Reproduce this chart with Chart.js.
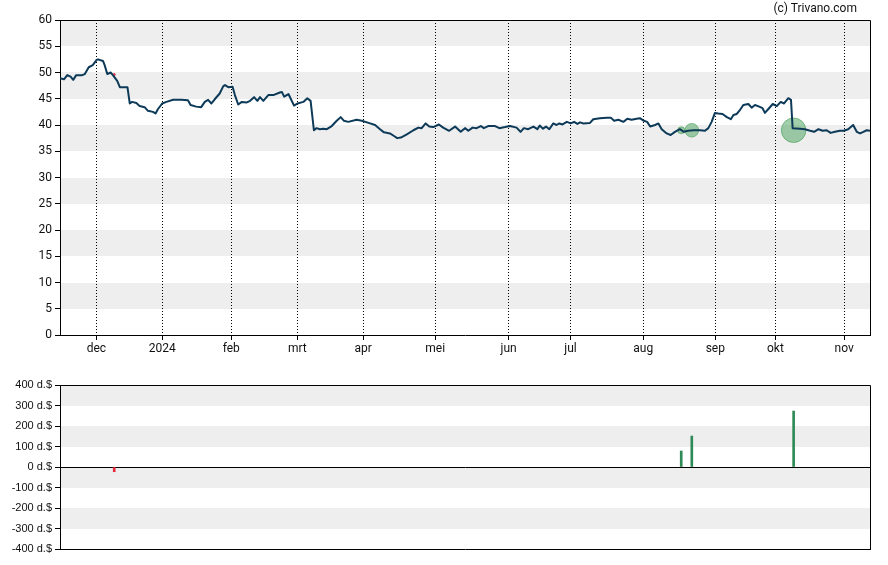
<!DOCTYPE html>
<html><head><meta charset="utf-8">
<script src="https://cdn.jsdelivr.net/npm/chart.js@4.4.0/dist/chart.umd.min.js"></script>
<style>
html,body{margin:0;padding:0;background:#fff;}
#wrap{position:relative;width:888px;height:565px;overflow:hidden;}
#c1{position:absolute;left:0;top:0;}
#c2{position:absolute;left:0;top:365px;}
#credit{position:absolute;right:31px;top:1px;font:12px Roboto,sans-serif;line-height:14px;color:#111;}
</style></head><body>
<div id="wrap">
<canvas id="c1" width="888" height="365"></canvas>
<canvas id="c2" width="888" height="200"></canvas>
<div id="credit">(c) Trivano.com</div>
</div>
<script>
// Trading-day index (0 = first day shown) and closing price
const priceDay = [0,1.2,2.2,3.2,4.0,4.9,6.7,7.5,8.7,9.9,11.1,11.5,13.0,13.5,14.3,15.3,16.0,17.3,18.1,20.4,21.1,21.8,23.1,24.1,25.6,26.6,28.1,28.9,29.6,30.9,32.2,34.2,36.7,38.7,39.5,41.2,42.7,43.8,44.8,45.8,46.8,48.3,49.4,49.9,50.9,52.2,52.9,53.9,55.0,56.5,57.5,58.7,59.7,60.5,61.5,63.0,64.5,66.5,67.1,67.8,69.1,70.8,71.8,73.6,74.8,75.8,76.8,77.6,78.6,79.6,80.7,82.2,83.7,84.9,85.9,87.2,89.7,91.3,93.3,95.3,96.8,98.0,99.8,100.8,102.0,103.1,104.9,106.9,108.4,109.4,110.6,111.7,112.9,114.6,115.9,117.7,119.5,121.2,122.5,123.5,124.8,126.0,127.3,128.2,129.5,131.6,132.9,134.6,136.1,138.1,139.3,140.3,141.6,143.2,144.4,145.1,146.1,147.0,148.0,149.2,150.2,151.0,152.0,153.3,154.5,155.5,156.5,157.3,158.3,160.3,161.3,163.3,165.4,166.6,167.6,168.9,170.4,171.6,172.9,174.4,175.4,176.6,177.6,178.5,180.0,181.0,182.0,183.5,184.7,186.0,187.5,188.7,190.0,191.6,193.6,195.1,196.1,197.1,198.1,199.1,200.4,201.7,202.9,203.7,204.7,205.7,206.7,208.2,209.2,210.2,211.5,212.5,213.2,214.2,215.6,216.8,218.0,219.0,220.3,221.1,221.6,223.8,225.3,226.9,228.1,229.4,230.7,231.9,233.1,234.4,235.9,237.1,238.4,239.9,241.0,242.0,243.0,244.0,245.0];
const priceValue = [48.9,48.7,49.5,49.2,48.6,49.5,49.5,49.7,51.0,51.4,52.4,52.5,52.2,51.4,49.7,50.0,49.5,48.4,47.2,47.2,44.1,44.4,44.2,43.6,43.4,42.7,42.5,42.2,43.0,44.1,44.4,44.8,44.8,44.7,43.8,43.5,43.4,44.4,44.8,44.1,44.9,46.0,47.4,47.6,47.2,47.3,45.7,43.9,44.4,44.3,44.6,45.3,44.6,45.3,44.6,45.7,45.7,46.2,46.3,45.4,45.9,43.7,44.1,44.4,45.1,44.6,39.0,39.4,39.2,39.3,39.2,39.8,40.8,41.5,40.8,40.6,41.0,40.8,40.4,40.0,39.2,38.6,38.4,38.0,37.5,37.6,38.2,39.0,39.5,39.4,40.3,39.7,39.6,40.1,39.5,38.9,39.7,38.7,39.4,38.9,39.5,39.4,39.8,39.4,39.8,39.8,39.4,39.6,39.8,39.5,38.7,39.4,39.2,39.7,39.2,39.9,39.3,39.7,39.2,40.3,40.0,40.3,40.1,40.6,40.3,40.6,40.2,40.5,40.3,40.4,41.1,41.3,41.4,41.4,40.8,41.0,40.6,41.2,41.0,41.2,41.3,40.8,40.6,39.7,40.0,40.3,39.2,38.4,38.1,38.7,39.2,38.7,38.9,39.0,39.0,38.9,39.4,40.6,42.3,42.2,42.1,41.5,41.1,41.9,42.1,42.9,43.8,44.0,43.3,43.8,43.5,43.2,42.3,43.0,44.0,43.6,44.4,44.1,45.1,44.8,39.4,39.3,39.2,38.9,38.7,39.2,38.9,39.0,38.5,38.7,38.9,38.9,39.2,40.0,38.7,38.4,38.7,39.0,38.9];

// Month tick positions (trading-day index) and labels
const monthTickDay = [11.0,30.9,51.8,71.8,91.7,113.5,135.7,154.4,176.4,198.2,216.4,237.2];
const monthLabels = ['dec','2024','feb','mrt','apr','mei','jun','jul','aug','sep','okt','nov'];

// Insider transactions (thousand $), day index and price at that day
const insiderDay = [16.4,187.9,191.1,221.9];
const insiderValue = [-23,78,151,273];
const insiderPrice = [49.6,39.0,39.0,39.0];

const priceTicksStep = 5;
const amountTicks = [-400,-300,-200,-100,0,100,200,300,400];

const FONT = {family:'Roboto', size:12};
const FONT2 = {family:'Liberation Sans', size:11};

const bandPlugin = {
  id:'bands',
  beforeDraw(chart){
    const {ctx, chartArea:a, scales:{y}} = chart;
    const t = y.ticks.map(k=>k.value);
    ctx.save();
    ctx.fillStyle = '#eeeeee';
    for (let k=0;k<t.length-1;k++){
      if (k%2===1){
        const y1 = y.getPixelForValue(t[k+1]), y2 = y.getPixelForValue(t[k]);
        ctx.fillRect(a.left, Math.round(y1), a.right-a.left, Math.round(y2)-Math.round(y1));
      }
    }
    ctx.restore();
  }
};
const framePlugin = {
  id:'frame',
  afterDraw(chart){
    const {ctx, chartArea:a} = chart;
    ctx.save();
    ctx.strokeStyle = '#000'; ctx.lineWidth = 1;
    ctx.beginPath();
    ctx.moveTo(Math.round(a.left)-0.5, Math.round(a.top)+0.5);
    ctx.lineTo(Math.round(a.right)+0.5, Math.round(a.top)+0.5);
    ctx.lineTo(Math.round(a.right)+0.5, Math.round(a.bottom));
    ctx.stroke();
    ctx.restore();
  }
};

const circleColors = insiderValue.map(v => v>=0 ? 'rgba(50,150,70,0.45)' : 'rgba(230,30,50,0.8)');
const circleBorders = insiderValue.map(v => v>=0 ? 'rgba(50,150,70,0.55)' : 'rgba(230,30,50,0.9)');

new Chart(document.getElementById('c1'), {
  type:'line',
  data:{
    datasets:[
      {type:'line', data: priceDay.map((d,i)=>({x:d,y:priceValue[i]})), borderColor:'#0d3a58', borderWidth:2,
       pointRadius:0, tension:0, borderJoinStyle:'round', order:1},
      {type:'scatter', data: insiderDay.map((d,i)=>({x:d,y:insiderPrice[i]})),
       pointRadius: insiderValue.map(v=>Math.max(1, Math.abs(v)*0.045)),
       backgroundColor: circleColors, borderColor: circleBorders, borderWidth:1, order:2}
    ]
  },
  options:{
    responsive:false, animation:false,
    layout:{padding:{left:0,right:18,top:20,bottom:0}},
    plugins:{legend:{display:false}, tooltip:{enabled:false}},
    scales:{
      x:{type:'linear', min:0, max:245,
        afterFit(s){ s.height = 30; },
        afterBuildTicks(s){ s.ticks = monthTickDay.map(v=>({value:v})); },
        ticks:{autoSkip:false, maxRotation:0, padding:2, color:'#111', font:FONT,
          callback:(v,i)=>monthLabels[i]},
        grid:{color:'#000', lineWidth:1, tickLength:5, tickColor:'#000', tickBorderDash:[]},
        border:{display:true, color:'#000', width:1, dash:[1,2]}
      },
      y:{min:0, max:60,
        afterFit(s){ s.width = 60; },
        ticks:{stepSize:priceTicksStep, autoSkip:false, padding:3, color:'#111', font:FONT},
        grid:{drawOnChartArea:false, color:'#000', tickLength:5, tickColor:'#000'},
        border:{display:true, color:'#000', width:1}
      }
    }
  },
  plugins:[bandPlugin, framePlugin]
});

new Chart(document.getElementById('c2'), {
  type:'bar',
  data:{
    datasets:[{data: insiderDay.map((d,i)=>({x:d,y:insiderValue[i]})),
      backgroundColor: insiderValue.map(v=>v>=0?'#2e8b57':'#e8283c'),
      barThickness:2, borderWidth:0}]
  },
  options:{
    responsive:false, animation:false,
    layout:{padding:{left:0,right:18,top:20,bottom:16}},
    plugins:{legend:{display:false}, tooltip:{enabled:false}},
    scales:{
      x:{type:'linear', min:0, max:245, offset:false,
        afterFit(s){ s.height = 0; },
        ticks:{display:false},
        grid:{display:false},
        border:{display:true, color:'#000', width:1}
      },
      y:{min:-400, max:400,
        afterFit(s){ s.width = 60; },
        afterBuildTicks(s){ s.ticks = amountTicks.map(v=>({value:v})); },
        ticks:{autoSkip:false, padding:3, color:'#111', font:FONT2, callback:v=>v+' d.$'},
        grid:{color:c=> (c.tick && c.tick.value===0) ? '#000' : 'rgba(0,0,0,0)', tickLength:5, tickColor:'#000', lineWidth:1},
        border:{display:true, color:'#000', width:1}
      }
    }
  },
  plugins:[bandPlugin, framePlugin]
});
</script>
</body></html>
